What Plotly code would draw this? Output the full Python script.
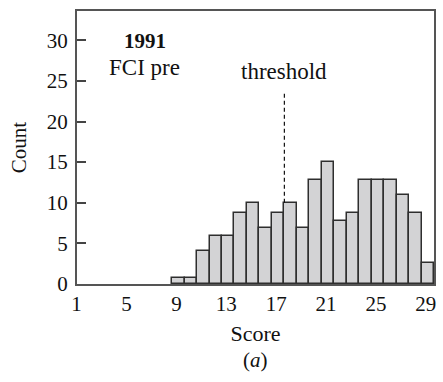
import plotly.graph_objects as go

scores = list(range(9, 30))
counts = [0.7, 0.7, 4.1, 5.9, 5.9, 8.7, 10.0, 6.9, 8.7, 10.0, 6.9,
          12.8, 15.0, 7.8, 8.7, 12.8, 12.8, 12.8, 10.9, 8.7, 2.6]
x_ticks = [1, 5, 9, 13, 17, 21, 25, 29]
y_ticks = [0, 5, 10, 15, 20, 25, 30]
threshold = 17.5
threshold_top = 23.7
year_label = "1991"
test_label = "FCI pre"

FONT = "Liberation Serif"

fig = go.Figure()
fig.add_trace(go.Bar(
    x=scores, y=counts, width=1,
    marker=dict(color="#d3d3d5", line=dict(color="#2e2e2e", width=1.5)),
    showlegend=False,
))

thr_bar = counts[scores.index(int(threshold + 0.5))]
fig.add_trace(go.Scatter(
    x=[threshold, threshold], y=[thr_bar, threshold_top], mode="lines",
    line=dict(color="#111", width=1.2, dash="4px,3px"), showlegend=False,
    hoverinfo="skip",
))

fig.add_annotation(x=threshold, y=26.1, text="threshold", showarrow=False,
                   font=dict(family=FONT, size=23, color="#111"))
fig.add_annotation(x=6.3, y=29.9, text="<b>" + year_label + "</b>", showarrow=False,
                   font=dict(family=FONT, size=21, color="#111"))
fig.add_annotation(x=6.3, y=26.6, text=test_label, showarrow=False,
                   font=dict(family=FONT, size=23, color="#111"))
fig.add_annotation(x=0.5, xref="paper", y=(284 - 360) / (284 - 11), yref="paper",
                   yanchor="middle", text="(<i>a</i>)", showarrow=False,
                   font=dict(family=FONT, size=21, color="#111"))

fig.update_layout(
    width=443, height=382,
    margin=dict(l=77, r=7, t=11, b=98),
    paper_bgcolor="white", plot_bgcolor="white",
    bargap=0,
    font=dict(family=FONT, size=20, color="#111"),
    xaxis=dict(
        range=[0.87, 29.5], tickvals=x_ticks, ticks="", showgrid=False,
        zeroline=False, showline=True, linecolor="#555", linewidth=2, mirror=True,
        ticklabelshift=-2, ticklabelstandoff=0,
        title=dict(text="Score", font=dict(family=FONT, size=22), standoff=10),
        tickfont=dict(family=FONT, size=21),
    ),
    yaxis=dict(
        range=[0, 33.6], tickvals=y_ticks, ticks="inside", ticklen=9,
        tickcolor="#444", tickwidth=1.5, showgrid=False, zeroline=False,
        showline=True, linecolor="#555", linewidth=2, mirror=True,
        title=dict(text="Count", font=dict(family=FONT, size=21), standoff=14),
        tickfont=dict(family=FONT, size=21), ticklabelstandoff=3,
    ),
)

fig.write_html("out.html")
